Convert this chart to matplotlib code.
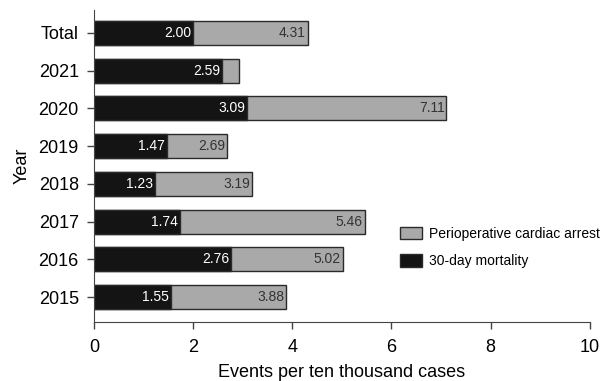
import matplotlib
matplotlib.use("Agg")
from matplotlib import pyplot as plt
from matplotlib.patches import Patch
import numpy as np

plt.rcParams['font.family'] = ['Liberation Sans', 'DejaVu Sans']

# categories bottom -> top
years = ["2015", "2016", "2017", "2018", "2019", "2020", "2021", "Total"]
arrest = [3.88, 5.02, 5.46, 3.19, 2.69, 7.11, 2.92, 4.31]
mortality = [1.55, 2.76, 1.74, 1.23, 1.47, 3.09, 2.59, 2.00]
arrest_labels = ["3.88", "5.02", "5.46", "3.19", "2.69", "7.11", "", "4.31"]

gray = "#a9a9a9"
black = "#141414"
edge = "#2a2a2a"

fig = plt.figure(figsize=(6.03, 3.81), dpi=100)
ax = fig.add_axes([0.156, 0.155, 0.822, 0.819])

y = np.arange(len(years))
h = 0.64
bars_a = ax.barh(y, arrest, height=h, color=gray, edgecolor=edge, linewidth=1.0)
bars_m = ax.barh(y, mortality, height=h, color=black, edgecolor=edge, linewidth=1.0)

for i in range(len(years)):
    ax.text(mortality[i] - 0.04, y[i], "{:.2f}".format(mortality[i]),
            ha='right', va='center', color='white', fontsize=10)
    if arrest_labels[i]:
        ax.text(arrest[i] - 0.04, y[i], arrest_labels[i],
                ha='right', va='center', color='#333333', fontsize=10)

ax.set_xlim(0, 10)
ax.set_ylim(-0.66, 7.61)
ax.set_xticks([0, 2, 4, 6, 8, 10])
ax.set_yticks(y)
ax.set_yticklabels(years)
ax.tick_params(axis='both', labelsize=13, color='#444444', length=5, width=1)
ax.tick_params(axis='x', pad=7)
ax.tick_params(axis='y', pad=6)
ax.spines['top'].set_visible(False)
ax.spines['right'].set_visible(False)
ax.spines['left'].set_color('#444444')
ax.spines['bottom'].set_color('#444444')
ax.set_xlabel("Events per ten thousand cases", fontsize=13, labelpad=6)
ax.set_ylabel("Year", fontsize=13, labelpad=6)

handles = [Patch(facecolor=gray, edgecolor=edge, label="Perioperative cardiac arrest"),
           Patch(facecolor=black, edgecolor=edge, label="30-day mortality")]
ax.legend(handles=handles, loc='upper left', bbox_to_anchor=(0.592, 0.345),
          frameon=False, fontsize=10, handlelength=1.6, handleheight=1.0,
          labelspacing=0.97, handletextpad=0.5)

fig.savefig("out.png", dpi=100)
